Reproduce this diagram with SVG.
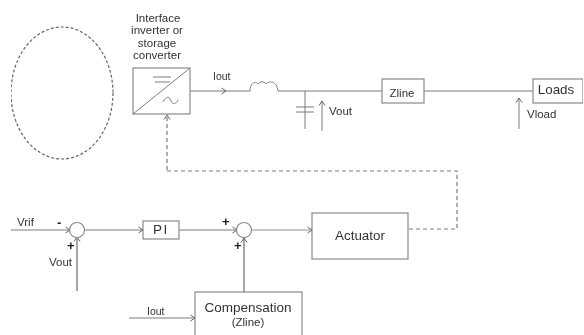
<svg xmlns="http://www.w3.org/2000/svg" width="584" height="335" viewBox="0 0 584 335">
<style>
text{font-family:"Liberation Sans",Arial,sans-serif;fill:#333;font-size:11.5px}
.c{text-anchor:middle}
.b{fill:#fff;stroke:#8a8a8a;stroke-width:1.2}
.n{fill:none;stroke:#8a8a8a;stroke-width:1.2}
.l{fill:none;stroke:#7d7d7d;stroke-width:1}
.h{fill:none;stroke:#808080;stroke-width:1.4}
.d{fill:none;stroke:#7a7a7a;stroke-width:1.2;stroke-dasharray:4 3}
.p{font-weight:bold;font-size:13px;fill:#222}
</style>
<defs>
<marker id="a" markerUnits="userSpaceOnUse" markerWidth="7" markerHeight="8" refX="5.5" refY="4" orient="auto"><path d="M1 1L5.5 4L1 7" fill="none" stroke="#666" stroke-width="1"/></marker>
<filter id="s" x="0" y="0" width="100%" height="100%"><feGaussianBlur stdDeviation="0.35"/></filter>
</defs>
<g filter="url(#s)">
<g id="connectors">
<path class="l" marker-end="url(#a)" d="M190 91H226"/>
<path class="l" d="M226 91H250C250 82 256 81 258 84C260 81 264 81 266 84C268 81 277 80 278 91H382"/>
<path class="l" d="M305 91V129M296 107H314M296 112H314"/>
<path class="l" marker-end="url(#a)" d="M322 131V101"/>
<path class="l" d="M424 91H533"/>
<path class="l" marker-end="url(#a)" d="M519 129V98"/>
<path class="d" marker-end="url(#a)" d="M167 170V115"/>
<path class="d" d="M167 171H457V229H408"/>
<path class="l" marker-end="url(#a)" d="M11 230H70"/>
<path class="l" marker-end="url(#a)" d="M85 230H143"/>
<path class="l" marker-end="url(#a)" d="M179 230H237"/>
<path class="l" style="stroke:#a58a8a" marker-end="url(#a)" d="M252 230H312"/>
<path class="h" marker-end="url(#a)" d="M77 291V237"/>
<path class="h" marker-end="url(#a)" d="M244 292V238"/>
<path class="l" marker-end="url(#a)" d="M129 318H195"/>
</g>
<g id="source"><ellipse cx="62" cy="93" rx="51" ry="66" fill="none" stroke="#666" stroke-width="1.2" stroke-dasharray="3 2"/></g>
<g id="converter">
<rect class="n" x="133" y="68" width="57" height="46"/>
<path class="l" d="M133 114L190 68M153 77H171M155 82H170M163 102C166 96 170 96 171 101C173 105 176 104 178 100"/>
<text class="c" x="158" y="22">Interface</text>
<text class="c" x="157" y="34">inverter or</text>
<text class="c" x="157" y="47">storage</text>
<text class="c" x="157" y="59">converter</text>
</g>
<text x="213" y="80" style="font-size:10.5px">Iout</text>
<text x="329" y="115">Vout</text>
<g id="zline"><rect class="n" x="382" y="79" width="42" height="24"/><text class="c" x="402" y="97">Zline</text></g>
<g id="loads"><rect class="n" x="533" y="79" width="50" height="24"/><text class="c" x="556" y="94" style="font-size:13.4px">Loads</text></g>
<text x="527" y="118">Vload</text>
<text x="17" y="226">Vrif</text>
<text class="p" x="57" y="227">-</text>
<text class="p" x="67" y="250">+</text>
<text x="49" y="266">Vout</text>
<g id="sum1"><circle class="b" cx="77" cy="230" r="7.5"/></g>
<g id="pi"><rect class="n" x="143" y="221" width="36" height="18"/><text class="c" x="161" y="234" style="font-size:13.5px;letter-spacing:1.5px">PI</text></g>
<text class="p" x="222" y="226">+</text>
<text class="p" x="234" y="250">+</text>
<g id="sum2"><circle class="b" cx="244" cy="230" r="7.5"/></g>
<g id="actuator"><rect class="n" x="312" y="213" width="96" height="46"/><text class="c" x="360" y="240" style="font-size:13.4px">Actuator</text></g>
<g id="compensation"><rect class="n" x="195" y="292" width="107" height="50"/><text class="c" x="248" y="312" style="font-size:13.5px">Compensation</text><text class="c" x="248" y="326">(Zline)</text></g>
<text x="147" y="315" style="font-size:10.5px">Iout</text>
</g>
</svg>
